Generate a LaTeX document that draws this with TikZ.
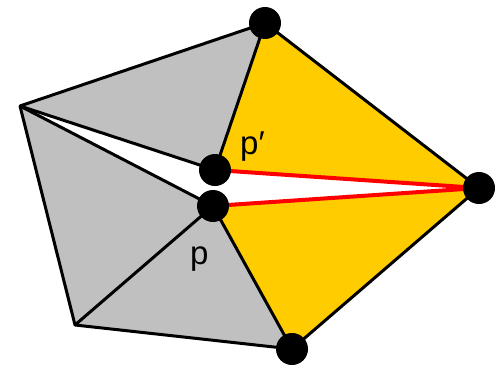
\documentclass[tikz,border=0pt]{standalone}
\usepackage{fontspec}
\setmainfont{Liberation Sans}
\definecolor{grayfill}{HTML}{C0C0C0}
\definecolor{orangefill}{HTML}{FFCC00}
\definecolor{redline}{HTML}{FF0000}
\tikzset{
  edge/.style={draw=black, line width=3pt, line join=round},
  rededge/.style={draw=redline, line width=4pt},
  vdot/.style={circle, fill=black, inner sep=0pt, minimum size=32pt},
  lbl/.style={font=\fontsize{33}{36}\selectfont, inner sep=0pt}
}
\begin{document}
\begin{tikzpicture}[x=1pt,y=-1pt]
\useasboundingbox (0,0) rectangle (496,367);
\coordinate (L1) at (20,106);
\coordinate (L2) at (75,325);
\coordinate (T) at (265,23);
\coordinate (B) at (292,349);
\coordinate (R) at (479,188);
\coordinate (pp) at (215,170);
\coordinate (p) at (213,206);
% fills
\fill[grayfill] (L1) -- (T) -- (pp) -- cycle;
\fill[grayfill] (L1) -- (p) -- (B) -- (L2) -- cycle;
\fill[orangefill] (T) -- (R) -- (pp) -- cycle;
\fill[orangefill] (p) -- (R) -- (B) -- cycle;
% black edges
\draw[edge] (L1) -- (T) -- (R) -- (B) -- (L2) -- cycle;
\draw[edge] (L1) -- (pp);
\draw[edge] (L1) -- (p);
\draw[edge] (T) -- (pp);
\draw[edge] (p) -- (L2);
\draw[edge] (p) -- (B);
% red edges
\draw[rededge] (pp) -- (R);
\draw[rededge] (p) -- (R);
% dots
\node[vdot] (nT) at (T) {};
\node[vdot] (nB) at (B) {};
\node[vdot] (nR) at (R) {};
\node[vdot] (npp) at (pp) {};
\node[vdot] (np) at (p) {};
% labels
\node[lbl, anchor=base west] (lpp) at (240,154) {p′};
\node[lbl, anchor=base west] (lp) at (190,264) {p};
\end{tikzpicture}
\end{document}
